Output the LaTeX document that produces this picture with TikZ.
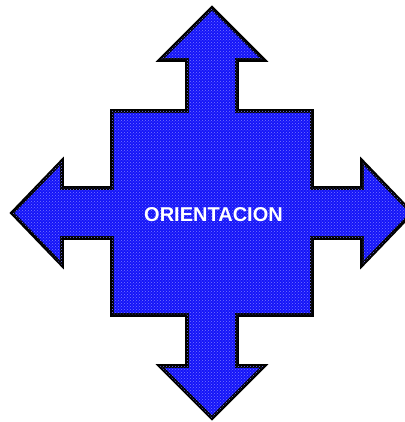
\documentclass[tikz,border=0pt]{standalone}
\usepackage{fontspec}
\setmainfont{Liberation Sans}
\usepackage{tikz}
\usetikzlibrary{patterns}
\definecolor{CrossBlue}{HTML}{1414F8}
\definecolor{DotBlue}{HTML}{7878FF}

\begin{document}
\begin{tikzpicture}[x=1pt,y=1pt,
  cross/.style={draw=black,line width=3.6pt,line join=miter,fill=CrossBlue,
    postaction={pattern=crosshatch dots,pattern color=DotBlue}},
  lbl/.style={text=white,font=\fontsize{20}{22}\selectfont\bfseries,inner sep=0pt}
]
  \useasboundingbox (-212,-209) rectangle (192,213);
  % four-way arrow
  \draw[cross] (0,205) -- (52,153) -- (25,153) -- (25,102) -- (100,102)
    -- (100,25) -- (150,25) -- (150,52) -- (200,0) -- (150,-52) -- (150,-25)
    -- (100,-25) -- (100,-102) -- (25,-102) -- (25,-153) -- (52,-153)
    -- (0,-205) -- (-52,-153) -- (-25,-153) -- (-25,-102) -- (-100,-102)
    -- (-100,-25) -- (-150,-25) -- (-150,-52) -- (-200,0) -- (-150,52)
    -- (-150,25) -- (-100,25) -- (-100,102) -- (-25,102) -- (-25,153)
    -- (-52,153) -- cycle;
  \node[lbl,anchor=base] (orient) at (1.5,-9) {ORIENTACION};
\end{tikzpicture}
\end{document}
